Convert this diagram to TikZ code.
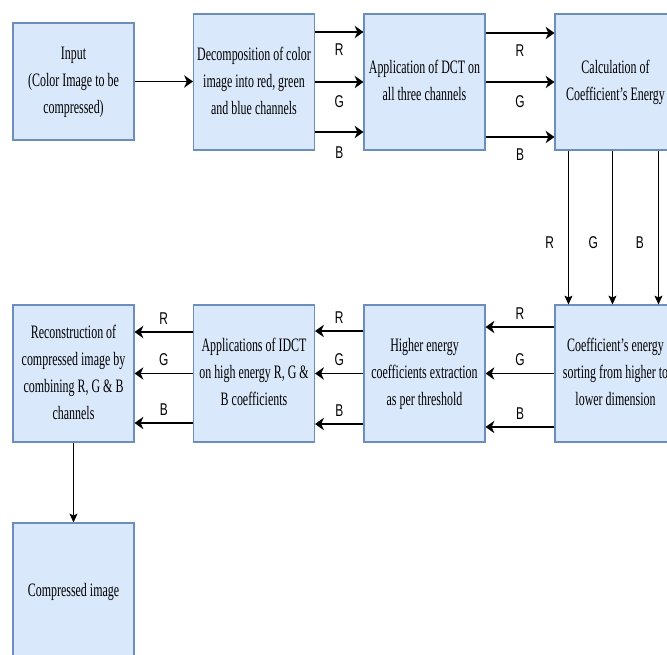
\documentclass[tikz,border=0pt]{standalone}
\usepackage{fontspec}
\setmainfont{Liberation Serif}
\setsansfont{Liberation Sans}
\usepackage{graphicx}
\usetikzlibrary{arrows.meta,positioning,calc}
\definecolor{cbox}{HTML}{DAE8FC}
\definecolor{cboxd}{HTML}{6C8EBF}

\begin{document}
\begin{tikzpicture}[
  font=\fontsize{10.8}{15.4}\selectfont,
  blk/.style={draw=cboxd, fill=cbox, line width=0.6pt, inner sep=0pt,
              minimum width=2.42cm, minimum height=2.72cm},
  flow/.style={-{Stealth[length=5pt, width=7pt, inset=1.5pt]}, line width=1.1pt},
  thin/.style={-{Stealth[length=5pt, width=4.5pt, inset=1pt]}, line width=0.6pt},
  ch/.style={font=\fontsize{9.7}{11}\selectfont\sffamily, inner sep=1pt},
]
\newcommand{\bx}[1]{\scalebox{0.63}[1]{\begin{tabular}{@{}c@{}}#1\end{tabular}}}
\newcommand{\lt}[1]{\scalebox{0.7}[1]{#1}}

\useasboundingbox (0,0) rectangle (13.34,-13.08);
\clip (0,0) rectangle (13.34,-13.08);

% ------------------------------------------------------------------ top row
\node[blk, minimum height=2.34cm] (in) at (1.47,-1.63) {\bx{Input\\(Color Image to be\\compressed)}};
\node[blk] (dec)    at (5.08,-1.64)  {\bx{Decomposition of color\\image into red, green\\and blue channels}};
\node[blk] (dct)    at (8.49,-1.64)  {\bx{Application of DCT on\\all three channels}};
\node[blk] (energy) at (12.31,-1.64) {\bx{Calculation of\\Coefficient's Energy}};

% ------------------------------------------------------------------ bottom rows
\node[blk, minimum height=2.74cm] (sort) at (12.31,-7.47) {\bx{Coefficient's energy\\sorting from higher to\\lower dimension}};
\node[blk, minimum height=2.74cm] (high) at (8.49,-7.47)  {\bx{Higher energy\\coefficients extraction\\as per threshold}};
\node[blk, minimum height=2.74cm] (idct) at (5.08,-7.47)  {\bx{Applications of IDCT\\on high energy R, G \&\\B coefficients}};
\node[blk, minimum height=2.74cm] (rec)  at (1.47,-7.47)  {\bx{Reconstruction of\\compressed image by\\combining R, G \& B\\channels}};
\node[blk, minimum height=2.74cm] (cmp)  at (1.47,-11.83) {\bx{Compressed image}};

% ------------------------------------------------------------------ channels, top row
\draw[flow] (in.east) -- (in.east -| dec.west);
\draw[flow] ($(dec.east)+(0,1.0)$)  -- node[ch, below=5pt]{\lt{R}} ($(dct.west)+(0,1.0)$);
\draw[flow] (dec.east) -- node[ch, below=6pt]{\lt{G}} (dct.west);
\draw[flow] ($(dec.east)+(0,-1.0)$) -- node[ch, below=7pt]{\lt{B}} ($(dct.west)+(0,-1.0)$);
\draw[flow] ($(dct.east)+(0,0.98)$)  -- node[ch, below=5pt]{\lt{R}} ($(energy.west)+(0,0.98)$);
\draw[flow] (dct.east) -- node[ch, below=6pt]{\lt{G}} (energy.west);
\draw[flow] ($(dct.east)+(0,-1.1)$) -- node[ch, below=5pt]{\lt{B}} ($(energy.west)+(0,-1.1)$);

% ------------------------------------------------------------------ down to sorting
\draw[thin] ($(energy.south west)+(0.28,0)$) -- node[ch, left=7pt, pos=0.6]{\lt{R}} ($(sort.north west)+(0.28,0)$);
\draw[thin] ($(energy.south west)+(1.16,0)$) -- node[ch, left=7pt, pos=0.6]{\lt{G}} ($(sort.north west)+(1.16,0)$);
\draw[thin] ($(energy.south west)+(2.08,0)$) -- node[ch, left=7pt, pos=0.6]{\lt{B}} ($(sort.north west)+(2.08,0)$);

% ------------------------------------------------------------------ channels, back to the left
\draw[flow] ($(sort.west)+(0,0.93)$)  -- node[ch, above=3pt]{\lt{R}} ($(high.east)+(0,0.93)$);
\draw[flow] (sort.west) -- node[ch, above=3pt]{\lt{G}} (high.east);
\draw[flow] ($(sort.west)+(0,-1.07)$) -- node[ch, above=3pt]{\lt{B}} ($(high.east)+(0,-1.07)$);
\draw[flow] ($(high.west)+(0,0.85)$)  -- node[ch, above=3pt]{\lt{R}} ($(idct.east)+(0,0.85)$);
\draw[flow] (high.west) -- node[ch, above=3pt]{\lt{G}} (idct.east);
\draw[flow] ($(high.west)+(0,-1.01)$) -- node[ch, above=3pt]{\lt{B}} ($(idct.east)+(0,-1.01)$);
\draw[flow] ($(idct.west)+(0,0.83)$)  -- node[ch, above=3pt]{\lt{R}} ($(rec.east)+(0,0.83)$);
\draw[flow] (idct.west) -- node[ch, above=3pt]{\lt{G}} (rec.east);
\draw[flow] ($(idct.west)+(0,-0.99)$) -- node[ch, above=3pt]{\lt{B}} ($(rec.east)+(0,-0.99)$);

\draw[thin] (rec) -- (cmp);
\end{tikzpicture}
\end{document}
